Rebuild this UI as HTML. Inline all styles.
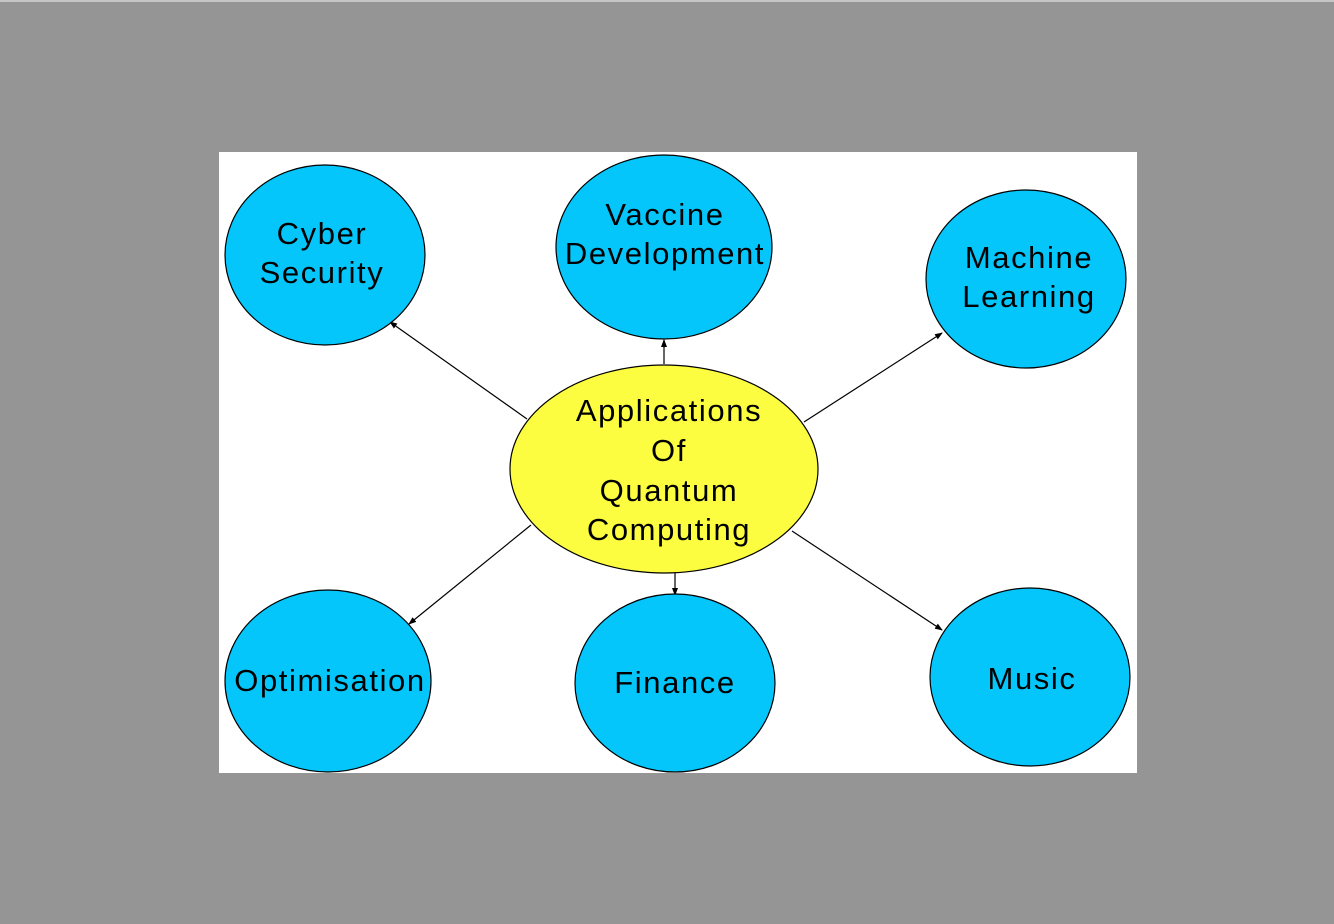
<!DOCTYPE html>
<html><head><style>
html,body{margin:0;padding:0;}
body{width:1334px;height:924px;background:#959595;overflow:hidden;position:relative;}
.top{position:absolute;left:0;top:0;width:1334px;height:2px;background:#c8c6c4;}
svg{position:absolute;left:0;top:0;}
text{font-family:"Liberation Sans",sans-serif;font-size:31px;letter-spacing:1.6px;fill:#000;text-anchor:middle;}
</style></head><body>
<div class="top"></div>
<svg width="1334" height="924" viewBox="0 0 1334 924">
<defs><marker id="a" markerWidth="8" markerHeight="8" refX="7" refY="4" orient="auto" markerUnits="userSpaceOnUse"><path d="M0,1 L8,4 L0,7 z" fill="#000"/></marker></defs>
<rect x="219" y="152" width="918" height="621" fill="#fff"/>
<g stroke="#000" stroke-width="1.2" marker-end="url(#a)">
<line x1="527" y1="419" x2="390" y2="322"/>
<line x1="664" y1="364" x2="664" y2="340"/>
<line x1="804" y1="422" x2="942" y2="333"/>
<line x1="531" y1="525" x2="409" y2="624"/>
<line x1="675" y1="573" x2="675" y2="595"/>
<line x1="792" y1="531" x2="942" y2="630"/>
</g>
<g fill="#04c6fb" stroke="#000" stroke-width="1.2">
<ellipse cx="325" cy="255" rx="100" ry="90"/>
<ellipse cx="664" cy="247" rx="108" ry="92"/>
<ellipse cx="1026" cy="279" rx="100" ry="89"/>
<ellipse cx="328" cy="681" rx="103" ry="91"/>
<ellipse cx="675" cy="683" rx="100" ry="89"/>
<ellipse cx="1030" cy="677" rx="100" ry="89"/>
</g>
<ellipse cx="664" cy="469" rx="154" ry="104" fill="#fcfc40" stroke="#000" stroke-width="1.2"/>
<text x="322" y="244">Cyber</text><text x="322" y="283">Security</text>
<text x="665" y="225">Vaccine</text><text x="665" y="264">Development</text>
<text x="1029" y="268">Machine</text><text x="1029" y="307">Learning</text>
<text x="669" y="421">Applications</text><text x="669" y="461">Of</text><text x="669" y="501">Quantum</text><text x="669" y="540">Computing</text>
<text x="330" y="691">Optimisation</text>
<text x="675" y="693">Finance</text>
<text x="1032" y="689">Music</text>
</svg>
</body></html>
